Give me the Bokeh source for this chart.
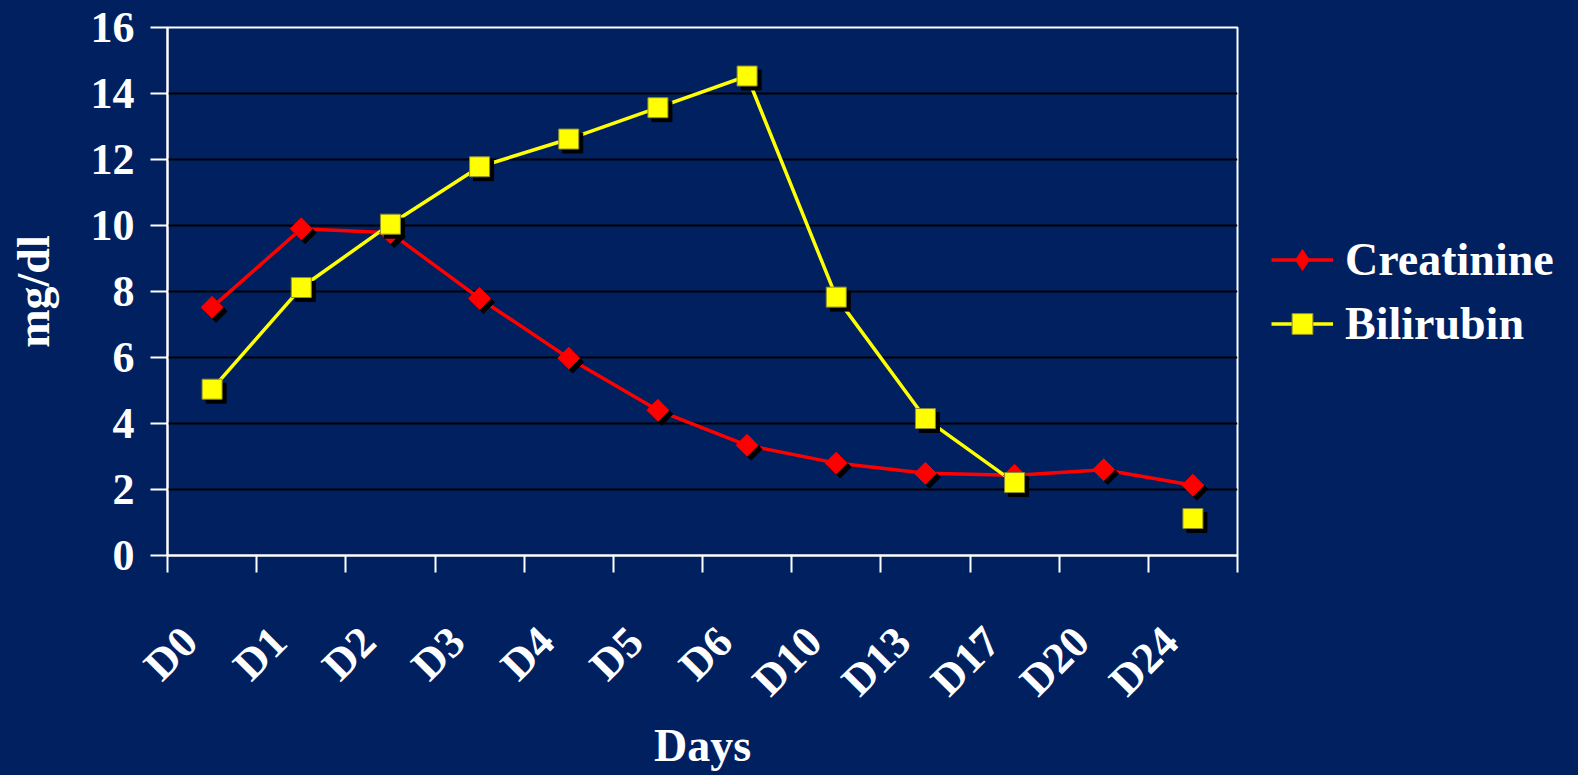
import numpy as np
from bokeh.plotting import figure
from bokeh.models import Range1d, FixedTicker, Legend, LegendItem, ColumnDataSource
from bokeh.transform import dodge
from bokeh.embed import file_html
from bokeh.resources import INLINE

days = ["D0", "D1", "D2", "D3", "D4", "D5", "D6", "D10", "D13", "D17", "D20", "D24"]
creatinine = [7.52, 9.9, 9.78, 7.79, 5.98, 4.4, 3.34, 2.8, 2.49, 2.43, 2.6, 2.13]
bilirubin = [5.04, 8.12, 10.04, 11.78, 12.62, 13.57, 14.53, 7.83, 4.15, 2.21, np.nan, 1.12]
y_ticks = [0, 2, 4, 6, 8, 10, 12, 14, 16]

BG = "#002060"
FONT = "Liberation Serif"

xs = np.arange(len(days)) + 0.5
label_shift = 0.25  # rotated labels sit slightly left of category centre

p = figure(frame_width=1070, frame_height=528, output_backend="svg", toolbar_location=None,
           x_range=Range1d(0, len(days)), y_range=Range1d(y_ticks[0], y_ticks[-1]),
           min_border_left=167, min_border_right=10, min_border_top=27, min_border_bottom=200)
p.background_fill_color = BG
p.border_fill_color = BG
p.outline_line_color = "white"
p.outline_line_width = 2

# grid
p.xgrid.visible = False
p.ygrid.ticker = FixedTicker(ticks=y_ticks[1:-1])
p.ygrid.grid_line_color = "black"
p.ygrid.grid_line_width = 2

# x axis
label_pos = [float(x - label_shift) for x in xs]
xa = p.xaxis[0]
xa.ticker = FixedTicker(ticks=label_pos, minor_ticks=list(range(len(days) + 1)))
xa.major_label_overrides = {x: d for x, d in zip(label_pos, days)}
xa.major_tick_line_color = None
xa.minor_tick_line_color = "white"
xa.minor_tick_line_width = 2
xa.minor_tick_out = 17
xa.minor_tick_in = 0
xa.axis_line_color = "white"
xa.axis_line_width = 2
xa.major_label_orientation = np.pi / 4
xa.major_label_standoff = 62
xa.major_label_text_font = FONT
xa.major_label_text_font_style = "bold"
xa.major_label_text_font_size = "44px"
xa.major_label_text_color = "white"
xa.axis_label = "Days"
xa.axis_label_text_font = FONT
xa.axis_label_text_font_style = "bold"
xa.axis_label_text_font_size = "46px"
xa.axis_label_text_color = "white"
xa.axis_label_standoff = -6

# y axis
ya = p.yaxis[0]
ya.ticker = FixedTicker(ticks=y_ticks)
ya.major_tick_line_color = "white"
ya.major_tick_line_width = 2
ya.major_tick_out = 17
ya.major_tick_in = 0
ya.minor_tick_line_color = None
ya.axis_line_color = "white"
ya.axis_line_width = 2
ya.major_label_standoff = 16
ya.major_label_text_font = FONT
ya.major_label_text_font_style = "bold"
ya.major_label_text_font_size = "44px"
ya.major_label_text_color = "white"
ya.axis_label = "mg/dl"
ya.axis_label_text_font = FONT
ya.axis_label_text_font_style = "bold"
ya.axis_label_text_font_size = "46px"
ya.axis_label_text_color = "white"
ya.axis_label_standoff = 29

source = ColumnDataSource(dict(x=xs, c=creatinine, b=bilirubin))

dx = 0.045
dy = -0.12

c_line = p.line("x", "c", source=source, line_color="red", line_width=3.5)
b_line = p.line("x", "b", source=source, line_color="yellow", line_width=3.5)

# shadows
p.scatter(dodge("x", dx), dodge("c", dy), source=source, marker="square", angle=np.pi / 4,
          size=15.5, fill_color="black", line_color="black")
p.scatter("x", "c", source=source, marker="square", angle=np.pi / 4,
          size=15.5, fill_color="red", line_color="red")
p.scatter(dodge("x", dx), dodge("b", dy), source=source, marker="square",
          size=20, fill_color="black", line_color="black")
b_pts = p.scatter("x", "b", source=source, marker="square",
                  size=20, fill_color="yellow", line_color="#8a8a30", line_width=1)

# legend-only diamond marker (no visible point in the plot)
leg_src = ColumnDataSource(dict(x=[np.nan], y=[np.nan]))
c_leg = p.scatter("x", "y", source=leg_src, marker="diamond", fill_color="red", line_color="red")

legend = Legend(items=[
    LegendItem(label="Creatinine", renderers=[c_line, c_leg]),
    LegendItem(label="Bilirubin", renderers=[b_line, b_pts]),
], location="center_left")
legend.background_fill_alpha = 0
legend.border_line_alpha = 0
legend.label_text_font = FONT
legend.label_text_font_style = "bold"
legend.label_text_font_size = "46px"
legend.label_text_color = "white"
legend.glyph_width = 62
legend.glyph_height = 52
legend.label_height = 52
legend.label_standoff = 12
legend.spacing = 11
legend.margin = 24
legend.padding = 10
p.add_layout(legend, "right")

html = file_html(p, INLINE)
html = html.replace("</head>", "<style>html, body { background-color: %s; }</style>\n</head>" % BG, 1)
open("out.html", "w").write(html)
